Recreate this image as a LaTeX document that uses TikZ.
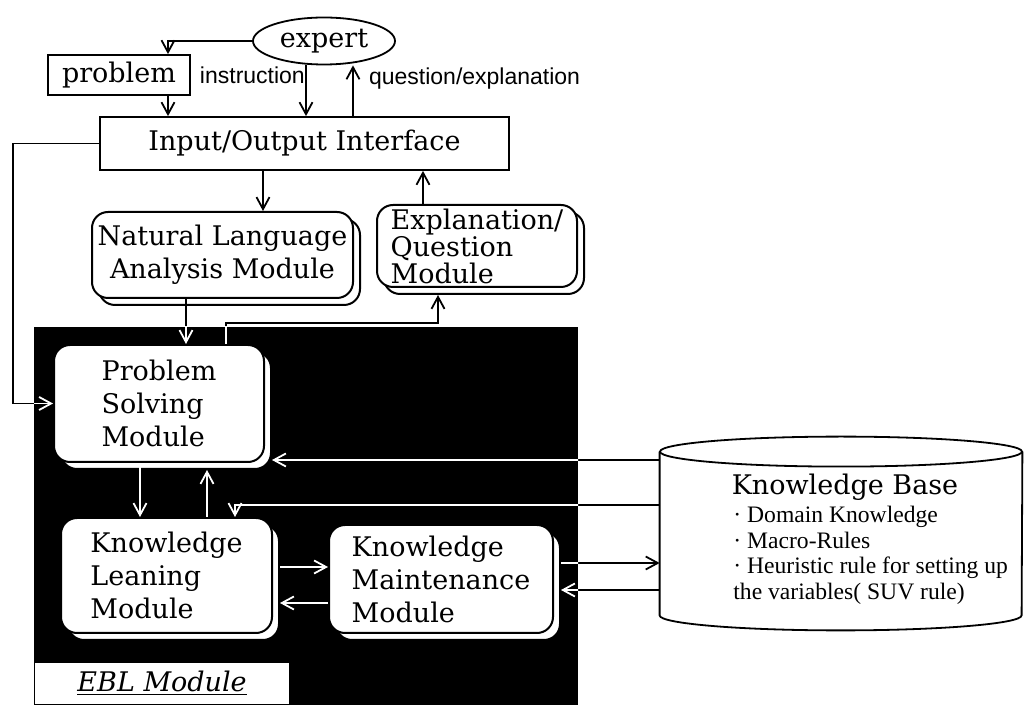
\documentclass[tikz,border=0pt]{standalone}
\usepackage{fontspec}
\setmainfont{DejaVu Serif}
\newfontfamily\labelfont{Liberation Sans}
\newfontfamily\itemfont{Liberation Serif}
\usetikzlibrary{arrows.meta,positioning,shapes.geometric,shadows}
\tikzset{
  bigtext/.style={
    font=\fontsize{13.5}{16.5}\selectfont
  },
  smalltext/.style={
    font=\labelfont\fontsize{11.5}{13}\selectfont
  },
  itemtext/.style={
    font=\itemfont\fontsize{11.8}{12.8}\selectfont
  },
  box/.style={
    draw,
    rectangle,
    line width=0.9pt,
    inner sep=0pt,
    bigtext
  },
  module/.style={
    draw,
    fill=white,
    rounded corners=8pt,
    line width=1pt,
    inner sep=0pt,
    align=left,
    bigtext,
    copy shadow={shadow xshift=3.5pt,shadow yshift=-3.5pt}
  },
  line/.style={
    -{Straight Barb[length=6pt,width=6.5pt]},
    line width=0.9pt
  },
  wire/.style={
    line width=0.9pt
  }
}
\newcommand\ebllinks{%
  \draw[line] (io.west) -| (loopx |- ps.west) -- (ps.west);
  \draw[line] (nlad |- nla.south) -- (nlad |- ps.north);
  \draw[line] (psu |- ps.north) |- (explin |- eqy) -- (explin |- explbase);
  \draw[line] (kb.west |- kby1) -- (psside |- kby1);
  \draw[line] (kld |- ps.south) -- (kld |- kl.north);
  \draw[line] (klu |- kl.north) -- (klu |- psbase);
  \draw[line] (kb.west |- kby2) -| (klin |- kl.north);
  \draw[line] (klside |- kly1) -- (km.west |- kly1);
  \draw[line] (km.west |- kly2) -- (klside |- kly2);
  \draw[line] (kmside |- kby3) -- (kb.west |- kby3);
  \draw[line] (kb.west |- kby4) -- (kmside |- kby4);
}

\begin{document}
\begin{tikzpicture}[x=0.5pt,y=-0.5pt]

\useasboundingbox (0,0) rectangle (1024,705);

\coordinate (eblnw) at (34,327);
\coordinate (eblse) at (578,705);
\fill (eblnw) rectangle (eblse);

\node[draw, ellipse, line width=0.9pt, minimum width=71pt, minimum height=23.5pt,
  inner sep=0pt, bigtext] (expert) at (324,41) {expert};
\node[box, minimum width=71pt, minimum height=20pt] (problem) at (119,75) {problem};
\node[smalltext, right=1pt of problem] (inslabel) {instruction};
\node[smalltext, anchor=west] (quelabel) at (362,79) {question/explanation};
\node[box, minimum width=204.5pt, minimum height=26.5pt] (io) at (304.5,143.5) {Input/Output Interface};

\node[module, minimum width=130.5pt, minimum height=43pt, align=center] (nla) at (222.5,255)
  {Natural Language\\Analysis Module};
\node[module, minimum width=100pt, minimum height=41pt,
  font=\fontsize{13.5}{13.5}\selectfont] (expl) at (477,246) {Explanation/\\Question\\Module};

\node[module, minimum width=105pt, minimum height=58.5pt] (ps) at (159,403.5) {Problem\\Solving\\Module};
\node[module, minimum width=105.5pt, minimum height=57.5pt] (kl) at (166.5,575.5) {Knowledge\\Leaning\\Module};
\node[module, minimum width=112pt, minimum height=54pt] (km) at (441,579) {Knowledge\\Maintenance\\Module};

\node[draw, fill=white, line width=0.6pt, minimum width=127.5pt, minimum height=21pt,
  anchor=south west, bigtext] (ebllabel) at (eblse -| eblnw) {\underline{\textit{EBL Module}}};

\node[minimum width=181pt, minimum height=81.5pt, inner sep=0pt] (kb) at (841,533.5) {};
\draw[wire] (kb.north west) -- (kb.south west)
  arc[start angle=180, end angle=0, x radius=181, y radius=15] -- (kb.north east);
\draw[wire] (kb.north) ellipse[x radius=181, y radius=15];
\node[bigtext, inner sep=0pt] (kbtitle) at (845,487) {Knowledge Base};
\node[itemtext, align=left, anchor=north west, inner sep=0pt] (kbitems) at (733,506)
  {· Domain Knowledge\\· Macro-Rules\\· Heuristic rule for setting up\\the variables( SUV rule)};

\coordinate (pdrop) at (168,0);
\coordinate (ins) at (306,0);
\coordinate (que) at (353,0);
\coordinate (iod) at (263,0);
\coordinate (iou) at (423,0);
\coordinate (loopx) at (13,0);
\coordinate (nlad) at (186,0);
\coordinate (psu) at (226,0);
\coordinate (explin) at (438,0);
\coordinate (kld) at (140,0);
\coordinate (klu) at (207,0);
\coordinate (klin) at (235,0);
\coordinate (eqy) at (0,323);
\coordinate (kby1) at (0,460);
\coordinate (kby2) at (0,505);
\coordinate (kby3) at (0,563);
\coordinate (kby4) at (0,590);
\coordinate (kly1) at (0,567);
\coordinate (kly2) at (0,603);
\coordinate (explbase) at ([yshift=-3.5pt]expl.south);
\coordinate (psbase) at ([yshift=-3.5pt]ps.south);
\coordinate (psside) at ([xshift=3.5pt]ps.east);
\coordinate (klside) at ([xshift=3.5pt]kl.east);
\coordinate (kmside) at ([xshift=3.5pt]km.east);

\draw[line] (expert.west) -| (pdrop |- problem.north);
\draw[line] (pdrop |- problem.south) -- (pdrop |- io.north);
\draw[line] (ins |- expert.south) -- (ins |- io.north);
\draw[line] (que |- io.north) -- (que |- expert.south);
\draw[line] (iod |- io.south) -- (iod |- nla.north);
\draw[line] (iou |- expl.north) -- (iou |- io.south);

\ebllinks
\begin{scope}
  \clip (eblnw) rectangle (eblse);
  \tikzset{line/.append style={white}}
  \ebllinks
\end{scope}

\end{tikzpicture}
\end{document}
